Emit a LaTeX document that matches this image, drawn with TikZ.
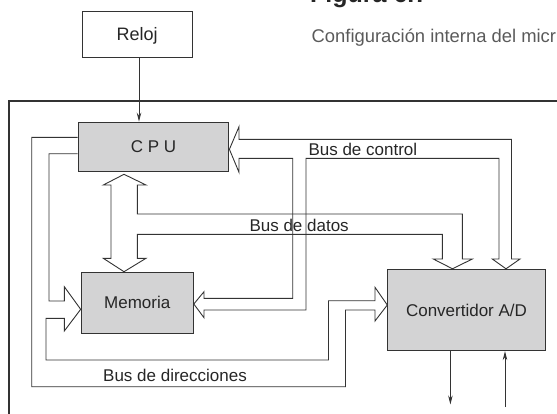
\documentclass[tikz,border=0pt]{standalone}
\usepackage{fontspec}
\setmainfont{Liberation Sans}
\usetikzlibrary{arrows.meta}
\definecolor{ink}{HTML}{333333}
\definecolor{boxgray}{HTML}{D3D3D4}
\definecolor{captiongray}{HTML}{5A5A5A}
\definecolor{labeltext}{HTML}{262626}

\begin{document}
\begin{tikzpicture}[x=1pt,y=-1pt,
  bus/.style={draw=ink, line width=0.9pt, line join=miter},
  unit/.style={draw=ink, line width=1.1pt, fill=boxgray, anchor=north west,
    inner sep=0pt, text=labeltext, font=\fontsize{17}{20}\selectfont, text depth=0pt},
  signal/.style={draw=ink, line width=0.9pt, -{Stealth[length=9pt,width=4.5pt]}},
  buslabel/.style={anchor=base west, inner sep=0pt, text=labeltext,
    font=\fontsize{17}{20}\selectfont}]
\useasboundingbox (0,0) rectangle (557,413);
\clip (0,0) rectangle (557,413);

% heading
\node[anchor=base west, inner sep=0pt, text=labeltext,
  font=\bfseries\fontsize{25}{28}\selectfont] (title) at (310,2.6) {Figura 6.7};
\node[anchor=base west, inner sep=0pt, text=captiongray,
  font=\fontsize{18.4}{22}\selectfont] (subtitle) at (311.5,42.3)
  {Configuración interna del micr};

% outer frame of the chip
\draw[ink, line width=2pt] (8.5,420) -- (8.5,100.7) -- (565,100.7);

% functional blocks
\node[unit, fill=white, minimum width=110pt, minimum height=46pt,
  font=\fontsize{18}{21}\selectfont] (reloj) at (81.7,10.7) {Reloj};
\node[unit, minimum width=150.8pt, minimum height=49pt] (cpu) at (77.5,121.7) {C P U};
\node[unit, minimum width=112pt, minimum height=61pt] (mem) at (80.7,271.7) {Memoria};
\node[unit, minimum width=157.3pt, minimum height=81.2pt] (conv) at (387.3,268.8) {Convertidor A/D};

% clock line
\draw[signal] (reloj.south -| 139,0) -- (cpu.north -| 139,0);

% control bus: CPU -> memory and converter
\draw[bus] (cpu.east |- 0,149.3) -- (239,126.7) -- (239,139.3) -- (511.5,139.3)
  -- (511.5,259) -- (520,259) -- (conv.north -| 506,0) -- (492.3,259) -- (499,259)
  -- (499,158.3) -- (306,158.3) -- (306,310) -- (204,310) -- (204,317.7)
  -- (mem.east |- 0,304) -- (204,291.7) -- (204,298.3) -- (292.7,298.3)
  -- (292.7,158.3) -- (239,158.3) -- (239,172.3) -- cycle;

% data bus: CPU <-> memory, -> converter
\draw[bus] (124,174.3) -- (146,185) -- (137.3,185) -- (137.3,214) -- (462.3,214)
  -- (462.3,259) -- (472.3,259) -- (conv.north -| 452.5,0) -- (433.3,259)
  -- (442.3,259) -- (442.3,234.3) -- (137.3,234.3) -- (137.3,258.3) -- (146,258.3)
  -- (mem.north -| 124,0) -- (103.3,258.3) -- (111,258.3) -- (111,185)
  -- (103.3,185) -- cycle;

% address bus: CPU -> memory and converter
\draw[bus] (cpu.west |- 0,137.3) -- (31.7,137.3) -- (31.7,386.7) -- (345.5,386.7)
  -- (345.5,310) -- (375,310) -- (375,321) -- (conv.west |- 0,305) -- (375,287.3)
  -- (375,300.7) -- (328.5,300.7) -- (328.5,360) -- (46,360) -- (46,318.3)
  -- (64.3,318.3) -- (64.3,331) -- (mem.west |- 0,309.3) -- (64.3,286.7)
  -- (64.3,301) -- (49,301) -- (49,153.7) -- (cpu.west |- 0,153.7);

% bus names
\node[buslabel] (lctl) at (308.3,155.2) {Bus de control};
\node[buslabel] (ldat) at (249.3,231) {Bus de datos};
\node[buslabel] (ldir) at (103,381.7) {Bus de direcciones};

% converter analog lines
\coordinate (adout) at (450.4,404.5);
\coordinate (adin) at (505,407);
\draw[signal] (conv.south -| adout) -- (adout);
\draw[signal] (adin) -- (conv.south -| adin);
\end{tikzpicture}
\end{document}
